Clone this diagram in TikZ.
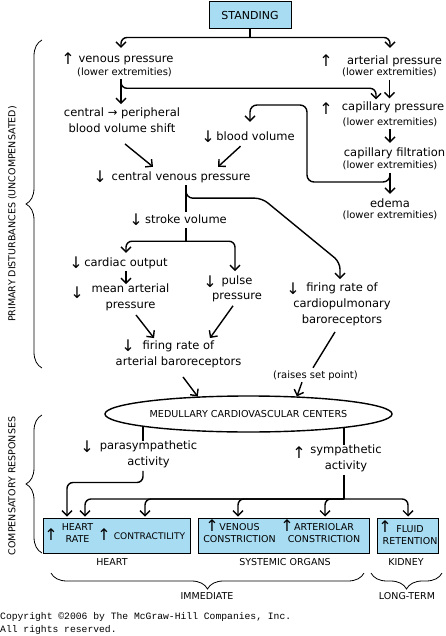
\documentclass[tikz,border=0pt]{standalone}
\usepackage{fontspec}
\setmainfont{DejaVu Sans}
\newfontfamily\copyfont{Liberation Mono}
\usepackage{tikz}
\definecolor{boxblue}{RGB}{168, 220, 242}
\usetikzlibrary{shapes.geometric, arrows.meta, positioning, calc, backgrounds, decorations.pathreplacing}

\begin{document}
\begin{tikzpicture}[x=1pt, y=-1pt,
        txt/.style={inner sep=0pt, align=center, font=\fontsize{11.5}{16}\selectfont, execute at begin node=\strut, execute at end node=\strut},
        ext/.style={txt, font=\fontsize{10}{12}\selectfont},
        caps/.style={txt, font=\fontsize{9.5}{12}\selectfont},
        chg/.style={inner sep=0pt, font=\fontsize{16}{16}\selectfont},
        organ/.style={rectangle, draw, fill=boxblue, line width=1pt, minimum height=35pt, inner sep=0pt},
        plain/.style={line width=1.4pt},
        link/.style={line width=1.4pt, -{Straight Barb[length=5pt, width=10pt]}},
        brc/.style={line width=0.8pt, decorate, decoration={brace, amplitude=16pt}}]
        \useasboundingbox (0,0) rectangle (446,636);

        \node [organ, minimum width=82pt, minimum height=27pt, font=\fontsize{11}{13}\selectfont] (stand) at (250,15.5) {STANDING};

        \node [chg] (venpA) at (68,59) {↑};
        \node [txt] (venp) at (126,59) {venous pressure};
        \node [ext] (venpx) at (124.5,73) {(lower extremities)};
        \node [chg] (artpA) at (326,61) {↑};
        \node [txt] (artp) at (394.5,61) {arterial pressure};
        \node [ext] (artpx) at (389.5,73.5) {(lower extremities)};
        \node [txt] (shift) at (122,123) {central → peripheral\\blood volume shift};
        \node [chg] (cappA) at (326,109) {↑};
        \node [txt] (capp) at (393,107.5) {capillary pressure};
        \node [ext] (cappx) at (390,123) {(lower extremities)};
        \node [txt] (capf) at (394.5,153) {capillary filtration};
        \node [ext] (capfx) at (390,166.5) {(lower extremities)};
        \node [txt] (edema) at (390,204) {edema};
        \node [ext] (edemax) at (390,216.5) {(lower extremities)};
        \node [chg] (bvolA) at (208,137) {↓};
        \node [txt] (bvol) at (255.5,137) {blood volume};
        \node [chg] (cvpA) at (100,177) {↓};
        \node [txt] (cvp) at (181,177) {central venous pressure};
        \node [chg] (svA) at (136,220) {↓};
        \node [txt] (sv) at (186,220) {stroke volume};
        \node [chg] (coA) at (76,263) {↓};
        \node [txt] (co) at (126,263) {cardiac output};
        \node [chg] (mapA) at (77,293) {↓};
        \node [txt] (map) at (130.5,299) {mean arterial\\pressure};
        \node [chg] (ppA) at (210,282) {↓};
        \node [txt, font=\fontsize{11.5}{15}\selectfont] (pp) at (237,289.5) {pulse\\pressure};
        \node [chg] (cpbA) at (293,289) {↓};
        \node [txt] (cpb) at (342,306) {firing rate of\\cardiopulmonary\\baroreceptors};
        \node [chg] (abrA) at (128,346) {↓};
        \node [txt] (abr) at (178.5,356) {firing rate of\\arterial baroreceptors};
        \node [ext] (rsp) at (315.5,376) {(raises set point)};

        \node [ellipse, draw, fill=white, line width=1.4pt, minimum width=287pt, minimum height=36pt, inner sep=0pt, font=\fontsize{9.6}{12}\selectfont] (mcc) at (248.5,414) {MEDULLARY CARDIOVASCULAR CENTERS};

        \node [chg] (paraA) at (87,447) {↓};
        \node [txt] (para) at (148.5,456) {parasympathetic\\activity};
        \node [chg] (sympA) at (299,453) {↑};
        \node [txt] (symp) at (346,460) {sympathetic\\activity};

        \node [organ, minimum width=147pt] (heart) at (116.5,535.5) {};
        \node [organ, minimum width=171pt] (sysorg) at (283.5,535.5) {};
        \node [organ, minimum width=61pt] (kidney) at (407.5,535.5) {};
        \node [chg] (hrA) at (51,535) {↑};
        \node [caps] (hr) at (77.5,535) {HEART\\RATE};
        \node [chg] (ctA) at (104,535) {↑};
        \node [caps, font=\fontsize{9.1}{12}\selectfont] (ct) at (149.5,537) {CONTRACTILITY};
        \node [chg] (vcA) at (212,526) {↑};
        \node [caps] (vc) at (239.5,535) {VENOUS\\CONSTRICTION};
        \node [chg] (acA) at (287,526) {↑};
        \node [caps] (ac) at (324,535) {ARTERIOLAR\\CONSTRICTION};
        \node [chg] (frA) at (385,527) {↑};
        \node [caps] (fr) at (410,536.5) {FLUID\\RETENTION};

        \node [caps] (heartL) at (112,563) {HEART};
        \node [caps] (sysL) at (285,563) {SYSTEMIC ORGANS};
        \node [caps] (kidL) at (406,563) {KIDNEY};
        \node [caps] (immL) at (207,597) {IMMEDIATE};
        \node [caps] (ltL) at (407,597) {LONG-TERM};
        \node [caps, rotate=90] (primL) at (13,214) {PRIMARY DISTURBANCES (UNCOMPENSATED)};
        \node [caps, rotate=90] (compL) at (13,486) {COMPENSATORY RESPONSES};
        \node [anchor=west, inner sep=0pt, align=left, font=\copyfont\fontsize{9.7}{13}\selectfont, execute at begin node=\strut, execute at end node=\strut] (copy) at (0,624.5) {Copyright ©2006 by The McGraw-Hill Companies, Inc.\\All rights reserved.};

        \draw [brc] (42,368) -- (42,40);
        \draw [brc] (42,553) -- (42,415);
        \draw [brc] (364,573) -- (51,573);
        \draw [brc] (442,573) -- (371,573);

        \draw [plain] (stand.south) -- ++(0,8) coordinate (sp1);
        \draw [link, rounded corners=6pt] (sp1) -| ([xshift=-5pt, yshift=3pt]venp.north);
        \draw [link, rounded corners=6pt] (sp1) -| ([xshift=-4.5pt, yshift=5pt]artp.north);

        \coordinate (v1) at ([xshift=-3.5pt]venpx.south);
        \draw [link, shorten >=4pt] (v1) -- (v1 |- shift.north);
        \draw [link, rounded corners=6pt] (v1) |- ([xshift=-17pt, yshift=11pt]capp.north) -- ([xshift=-17pt]capp.north);
        \draw [link, shorten >=1pt] (artpx.south) -- (artpx.south |- capp.north);
        \draw [link, shorten >=2pt] (cappx.south) -- (cappx.south |- capf.north);
        \draw [link, shorten >=2pt] (capfx.south) -- (capfx.south |- edema.north);

        \coordinate (loopL) at (307,182);
        \coordinate (loopT) at (307,105);
        \draw [link, rounded corners=7pt, shorten >=7pt] ([yshift=-3pt]capfx.south) |- (loopL) -- (loopT) -| ([xshift=-5.5pt]bvol.north);

        \draw [link] ([xshift=3pt, yshift=-6pt]shift.south) -- ([xshift=-28pt, yshift=2pt]cvp.north);
        \draw [link] ([xshift=-15pt, yshift=-1pt]bvol.south) -- ([xshift=37pt, yshift=2pt]cvp.north);

        \coordinate (c1) at (sv.north |- cvp.south);
        \draw [plain] (c1) -- (sv.north);
        \draw [link, rounded corners=7pt, shorten >=4pt] ([yshift=-3pt]c1) |- ++(76,10) -- ++(78,64) -- ([xshift=-2pt]cpb.north);

        \draw [plain] (sv.south) -- ++(0,13) coordinate (sp2);
        \draw [link, rounded corners=6pt, shorten >=2pt] (sp2) -| (co.north);
        \draw [link, rounded corners=6pt, shorten >=4pt] (sp2) -| ([xshift=-2pt]pp.north);
        \draw [link] (co.south) -- (co.south |- map.north);
        \draw [link] ([xshift=5.5pt, yshift=-1pt]map.south) -- ([xshift=-24.5pt, yshift=3pt]abr.north);
        \draw [link] ([xshift=-4pt, yshift=-2pt]pp.south) -- ([xshift=31.5pt, yshift=3pt]abr.north);

        \draw [link] ([xshift=4.5pt, yshift=-6pt]abr.south) -- (mcc.161);
        \draw [plain] ([xshift=-7pt, yshift=-3pt]cpb.south) -- ([xshift=-2.5pt, yshift=2pt]rsp.north);
        \draw [link] ([xshift=-13.5pt]rsp.south) -- (mcc.20);

        \coordinate (p1) at ([xshift=-5.5pt]para.north);
        \coordinate (s1) at ([xshift=-2pt]symp.north);
        \begin{scope}[on background layer]
            \draw [plain] (p1 |- mcc.center) -- (p1);
            \draw [plain] (s1 |- mcc.center) -- (s1);
        \end{scope}
        \draw [link, rounded corners=6pt, shorten >=1pt] ([xshift=-5.5pt]para.south) |- ([xshift=-49.5pt, yshift=35pt]heart.north) -- ([xshift=-49.5pt]heart.north);
        \draw [plain] ([xshift=-2pt]symp.south) -- ++(0,24) coordinate (sp3);
        \foreach \nd/\dx in {heart/-31.5, heart/28.5, sysorg/-45.5, sysorg/41.5, kidney/0.5}
            \draw [link, rounded corners=6pt, shorten >=1pt] (sp3) -| ([xshift=\dx pt]\nd.north);
    \end{tikzpicture}
\end{document}
